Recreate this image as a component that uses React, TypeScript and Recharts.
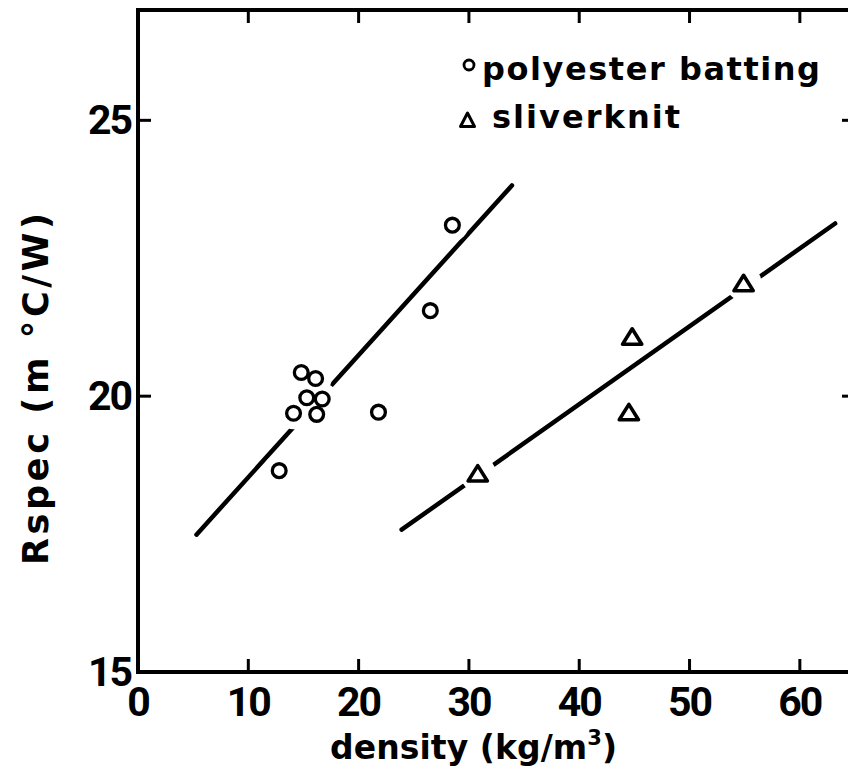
import React from 'react';
import { ScatterChart, Scatter, XAxis, YAxis, Legend, Label } from 'recharts';

// ---- data ----
const polyesterX = [14.8, 16.1, 15.3, 16.7, 14.1, 16.2, 21.8, 12.8, 26.5, 28.5];
const polyesterY = [20.43, 20.32, 19.97, 19.95, 19.69, 19.67, 19.71, 18.65, 21.55, 23.1];
const sliverX = [30.8, 44.5, 44.8, 54.9];
const sliverY = [18.6, 19.71, 21.08, 22.05];
const fitPolyX = [5.3, 33.9];
const fitPolyY = [17.49, 23.82];
const fitSliverX = [23.9, 63.2];
const fitSliverY = [17.58, 23.13];
const xTicks = [0, 10, 20, 30, 40, 50, 60];
const yTicks = [15, 20, 25];
const xDomain = [0, 65];
const yDomain = [15, 27];
const seriesNames = ['polyester batting', 'sliverknit'];
const xTitle = ['density (kg/m', '3', ')'];
const yTitle = 'Rspec (m °C/W)';

const zip = (xs: number[], ys: number[]) => xs.map((x, i) => ({ x, y: ys[i] }));
const polyData = zip(polyesterX, polyesterY);
const sliverData = zip(sliverX, sliverY);
const fitPoly = zip(fitPolyX, fitPolyY);
const fitSliver = zip(fitSliverX, fitSliverY);

const NUMFONT = 'Roboto, "Liberation Sans", sans-serif';
const TXTFONT = '"DejaVu Sans", Verdana, sans-serif';
const INK = '#000';

const BottomTick = (p: any) => {
  const { x, y, payload } = p;
  return (
    <g>
      {payload.value !== 0 && <line x1={x} y1={y} x2={x} y2={y - 13} stroke={INK} strokeWidth={3} />}
      <text x={x} y={y + 44} textAnchor="middle" fontFamily={NUMFONT} fontWeight={700} fontSize={41} letterSpacing={-2} fill={INK}>
        {payload.value}
      </text>
    </g>
  );
};
const LeftTick = (p: any) => {
  const { x, y, payload } = p;
  return (
    <g>
      {payload.value !== 15 && <line x1={x} y1={y} x2={x + 13} y2={y} stroke={INK} strokeWidth={3} />}
      <text x={x - 7} y={y + 14} textAnchor="end" fontFamily={NUMFONT} fontWeight={700} fontSize={41} letterSpacing={-2} fill={INK}>
        {payload.value}
      </text>
    </g>
  );
};
const TopTick = (p: any) => {
  const { x, y } = p;
  return <line x1={x} y1={y} x2={x} y2={y + 13} stroke={INK} strokeWidth={3} />;
};
const RightTick = (p: any) => {
  const { x, y } = p;
  return <line x1={x} y1={y} x2={x - 13} y2={y} stroke={INK} strokeWidth={3} />;
};

const XTitle = (p: any) => {
  const vb = p.viewBox || { x: 130, y: 664, width: 717, height: 98 };
  const cx = vb.x + vb.width / 2 - 23;
  const by = vb.y + 87;
  return (
    <text x={cx} y={by} textAnchor="middle" fontFamily={TXTFONT} fontWeight={700} fontSize={33} fill={INK} textLength={287} lengthAdjust="spacing">
      {xTitle[0]}
      <tspan fontSize={21} dy={-14}>{xTitle[1]}</tspan>
      <tspan dy={14}>{xTitle[2]}</tspan>
    </text>
  );
};
const YTitle = (p: any) => {
  const vb = p.viewBox || { x: 0, y: 2, width: 130, height: 662 };
  const bx = vb.x + 40;
  const cy = vb.y + vb.height / 2 + 48;
  return (
    <text
      x={bx}
      y={cy}
      textAnchor="middle"
      transform={`rotate(-90, ${bx}, ${cy})`}
      fontFamily={TXTFONT}
      fontWeight={700}
      fontSize={35}
      fill={INK}
      textLength={352}
      lengthAdjust="spacing"
    >
      {yTitle}
    </text>
  );
};

const Halo = (r: number) => (p: any) => <circle cx={p.cx} cy={p.cy} r={r} fill="#fff" />;
const Ring = (p: any) => <circle cx={p.cx} cy={p.cy} r={6.9} fill="#fff" stroke={INK} strokeWidth={3.3} />;
const Tri = (p: any) => (
  <path
    d={`M${p.cx},${p.cy - 7.8} L${p.cx - 9.6},${p.cy + 7.6} L${p.cx + 9.6},${p.cy + 7.6} Z`}
    fill="#fff"
    stroke={INK}
    strokeWidth={3.6}
    strokeLinejoin="round"
  />
);
const NoShape = () => <g />;

const LegendContent = () => (
  <svg width={400} height={110} style={{ display: 'block' }}>
    <circle cx={14} cy={25} r={5} fill="none" stroke={INK} strokeWidth={2.8} />
    <text x={27} y={40} fontFamily={TXTFONT} fontWeight={700} fontSize={32} fill={INK} textLength={338} lengthAdjust="spacing">
      {seriesNames[0]}
    </text>
    <path d="M12.5,73 L5.5,86.5 L19.5,86.5 Z" fill="none" stroke={INK} strokeWidth={3} strokeLinejoin="round" />
    <text x={37} y={88} fontFamily={TXTFONT} fontWeight={700} fontSize={32} fill={INK} textLength={188} lengthAdjust="spacing">
      {seriesNames[1]}
    </text>
  </svg>
);

const axisLineStyle = { stroke: INK, strokeWidth: 4, strokeLinecap: 'square' as const };

export default function App() {
  return (
    <div style={{ position: 'fixed', left: 0, top: 0, width: 848, height: 778, overflow: 'hidden', background: '#fff' }}>
      <div style={{ position: 'absolute', left: 8, top: 8, width: 880, height: 762 }}>
        <ScatterChart width={852} height={762} margin={{ top: 0, right: 0, bottom: 0, left: 0 }}>
          <XAxis
            xAxisId={0}
            type="number"
            dataKey="x"
            domain={xDomain}
            ticks={xTicks}
            interval={0}
            allowDataOverflow
            height={98}
            tickSize={0}
            tickMargin={0}
            tickLine={false}
            axisLine={axisLineStyle}
            tick={BottomTick}
          >
            <Label content={XTitle} />
          </XAxis>
          <XAxis
            xAxisId="top"
            orientation="top"
            type="number"
            dataKey="x"
            domain={xDomain}
            ticks={xTicks.slice(1)}
            interval={0}
            allowDataOverflow
            height={2}
            tickSize={0}
            tickMargin={0}
            tickLine={false}
            axisLine={axisLineStyle}
            tick={TopTick}
          />
          <YAxis
            yAxisId={0}
            type="number"
            dataKey="y"
            domain={yDomain}
            ticks={yTicks}
            interval={0}
            allowDataOverflow
            width={130}
            tickSize={0}
            tickMargin={0}
            tickLine={false}
            axisLine={axisLineStyle}
            tick={LeftTick}
          >
            <Label content={YTitle} />
          </YAxis>
          <YAxis
            yAxisId="right"
            orientation="right"
            type="number"
            dataKey="y"
            domain={yDomain}
            ticks={[20, 25]}
            interval={0}
            allowDataOverflow
            width={5}
            tickSize={0}
            tickMargin={0}
            tickLine={false}
            axisLine={axisLineStyle}
            tick={RightTick}
          />
          <Legend
            layout="vertical"
            align="center"
            verticalAlign="middle"
            wrapperStyle={{ left: 447, top: 32, width: 400, height: 110 }}
            content={LegendContent}
          />
          <Scatter
            name="fit polyester"
            data={fitPoly}
            line={{ stroke: INK, strokeWidth: 4.5, strokeLinecap: 'round' }}
            shape={NoShape}
            isAnimationActive={false}
          />
          <Scatter
            name="fit sliverknit"
            data={fitSliver}
            line={{ stroke: INK, strokeWidth: 4.5, strokeLinecap: 'round' }}
            shape={NoShape}
            isAnimationActive={false}
          />
          <Scatter name="halo polyester" data={polyData} shape={Halo(16)} isAnimationActive={false} />
          <Scatter name="halo sliverknit" data={sliverData} shape={Halo(18)} isAnimationActive={false} />
          <Scatter name={seriesNames[0]} data={polyData} shape={Ring} isAnimationActive={false} />
          <Scatter name={seriesNames[1]} data={sliverData} shape={Tri} isAnimationActive={false} />
        </ScatterChart>
      </div>
    </div>
  );
}
